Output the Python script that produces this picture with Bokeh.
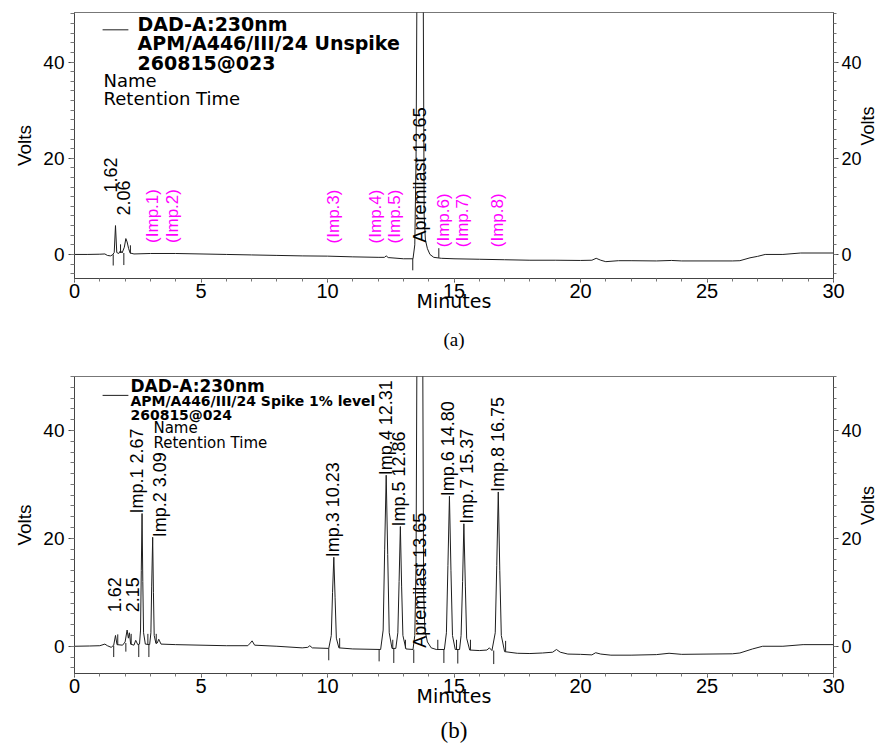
import math
from bokeh.plotting import figure
from bokeh.models import Range1d, LinearAxis, FixedTicker, Label, Title, ColumnDataSource
from bokeh.layouts import column
from bokeh.core.properties import value
from bokeh.embed import file_html
from bokeh.resources import INLINE

# ---------------- (a) Unspiked sample: detector trace (minutes, volts) ----------------
trace_a = [
    (0.0, 0.0), (0.5, 0.0), (1.0, 0.05), (1.2, 0.1), (1.3, -0.2), (1.42, -0.3), (1.5, -0.1),
    (1.57, 0.4), (1.62, 6.0), (1.67, 0.4), (1.75, 0.2), (1.82, 0.8), (1.88, 0.3), (1.97, 1.5),
    (2.03, 3.3), (2.08, 2.6), (2.14, 1.2), (2.2, 0.3), (2.35, 0.1), (3.0, 0.2), (4.0, 0.2),
    (5.0, 0.1), (6.0, 0.0), (7.0, -0.1), (8.0, -0.2), (9.0, -0.3), (10.0, -0.35), (11.0, -0.5),
    (12.0, -0.6), (12.25, -0.6), (12.32, -0.3), (12.4, -0.65), (13.0, -0.9), (13.38, -0.9),
    (13.45, 2.0), (13.5, 20.0), (13.54, 60.0), (13.78, 60.0), (13.82, 8.0), (13.87, 3.0),
    (13.95, 1.2), (14.05, 0.0), (14.2, -0.6), (14.5, -0.8), (15.0, -0.9), (16.0, -1.0),
    (17.0, -1.1), (18.0, -1.2), (19.0, -1.2), (20.0, -1.25), (20.45, -1.2), (20.62, -0.8),
    (20.8, -1.2), (21.0, -1.5), (21.5, -1.3), (22.0, -1.3), (23.0, -1.35), (23.6, -1.25),
    (24.0, -1.35), (25.0, -1.35), (26.0, -1.35), (26.3, -1.3), (26.7, -0.7), (27.0, -0.4),
    (27.3, 0.0), (28.0, 0.0), (28.7, 0.3), (30.0, 0.3),
]
# integration event marks: time, start volts, end volts
marks_a = [(1.53, 0.0, -2.3), (1.82, 0.3, 2.1), (1.95, 0.3, -2.2), (2.21, 0.2, 1.9),
           (13.37, -0.9, -3.3), (14.40, -0.7, 1.3)]
found_labels_a = ["1.62", "2.06", "Apremilast 13.65"]
found_label_a_t = [1.44, 1.95, 13.64]
found_label_a_v = [12.9, 8.1, 2.5]
expected_labels_a = ["(Imp.1)", "(Imp.2)", "(Imp.3)", "(Imp.4)", "(Imp.5)", "(Imp.6)", "(Imp.7)", "(Imp.8)"]
expected_a_t = [3.08, 3.89, 10.24, 11.90, 12.65, 14.57, 15.34, 16.72]
expected_a_v = [2.4, 2.4, 2.3, 2.3, 2.3, 1.5, 1.5, 1.5]
legend_a = ["DAD-A:230nm", "APM/A446/III/24 Unspike", "260815@023"]
legend_sub = ["Name", "Retention Time"]

# ---------------- (b) Spiked 1% level ----------------
trace_b = [
    (0.0, 0.0), (0.6, 0.05), (1.0, 0.1), (1.2, 0.4), (1.3, 0.1), (1.45, -0.2), (1.55, 0.2),
    (1.62, 2.0), (1.68, 0.3), (1.9, 0.2), (2.0, 0.8), (2.08, 3.0), (2.13, 1.5), (2.17, 2.5),
    (2.22, 0.4), (2.35, 0.2), (2.42, 1.1), (2.5, 0.3), (2.57, 0.4), (2.61, 3.0), (2.64, 14.0),
    (2.67, 24.6), (2.70, 12.0), (2.73, 2.5), (2.8, 0.4), (2.97, 0.3), (3.02, 2.5), (3.05, 11.0),
    (3.09, 20.2), (3.12, 10.0), (3.15, 2.0), (3.22, 0.5), (3.27, 0.6), (3.33, 1.3), (3.42, 0.4),
    (4.0, 0.3), (5.0, 0.2), (6.0, 0.1), (6.85, 0.1), (6.95, 0.6), (7.02, 1.0), (7.12, 0.2),
    (8.0, 0.0), (9.0, -0.3), (9.22, -0.2), (9.3, 0.1), (9.4, -0.3), (10.05, -0.4), (10.15, 2.0),
    (10.2, 10.0), (10.25, 16.5), (10.3, 9.0), (10.35, 1.5), (10.45, -0.3), (11.0, -0.5),
    (12.1, -0.6), (12.2, 3.0), (12.26, 18.0), (12.32, 31.7), (12.38, 17.0), (12.44, 2.5),
    (12.55, -0.4), (12.7, -0.4), (12.78, 2.5), (12.83, 12.0), (12.88, 22.2), (12.93, 11.0),
    (12.98, 2.0), (13.1, -0.5), (13.38, -0.6), (13.45, 2.0), (13.5, 15.0), (13.54, 60.0),
    (13.76, 60.0), (13.8, 10.0), (13.85, 3.0), (13.95, 0.8), (14.1, -0.3), (14.3, -0.6),
    (14.62, -0.6), (14.7, 2.5), (14.76, 15.0), (14.82, 27.8), (14.88, 14.0), (14.94, 2.0),
    (15.05, -0.6), (15.22, -0.6), (15.28, 2.0), (15.34, 12.0), (15.39, 22.7), (15.45, 11.0),
    (15.5, 1.5), (15.62, -0.7), (16.0, -0.8), (16.3, -0.7), (16.4, -0.3), (16.5, -0.8),
    (16.63, 2.5), (16.69, 15.0), (16.75, 28.6), (16.81, 14.0), (16.87, 2.0), (17.0, -1.0),
    (17.5, -1.3), (18.0, -1.35), (18.5, -1.25), (18.9, -1.1), (19.05, -0.6), (19.2, -1.1),
    (19.5, -1.45), (20.0, -1.5), (20.45, -1.6), (20.6, -1.2), (20.8, -1.45), (21.2, -1.65),
    (22.0, -1.65), (23.0, -1.55), (23.5, -1.3), (24.0, -1.5), (25.0, -1.45), (26.0, -1.4),
    (26.3, -1.25), (26.8, -0.5), (27.2, 0.0), (28.0, 0.0), (28.8, 0.3), (30.0, 0.3),
]
marks_b = [(1.55, 0.1, -2.0), (1.71, 0.3, 2.2), (2.03, 0.6, -1.0), (2.24, 0.3, 2.3),
           (2.54, 0.3, -2.0), (2.90, 0.3, 2.3), (2.94, 0.3, -2.0), (3.23, 0.6, 2.3),
           (10.05, -0.4, -2.6), (10.48, -0.3, 1.5), (12.04, -0.6, -2.8), (12.58, -0.4, 1.2),
           (12.62, -0.4, -3.1), (13.08, -0.4, 1.2), (13.41, -0.6, -3.1), (14.36, -0.6, 1.2),
           (14.60, -0.6, -3.1), (15.10, -0.6, 1.2), (15.15, -0.6, -3.2), (15.65, -0.7, 1.2),
           (16.57, -0.8, -3.3), (17.04, -1.0, 1.0)]
labels_b = ["1.62", "2.15", "Imp.1 2.67", "Imp.2 3.09", "Imp.3 10.23", "Imp.4 12.31",
            "Imp.5 12.86", "Apremilast 13.65", "Imp.6 14.80", "Imp.7 15.37", "Imp.8 16.75"]
label_b_t = [1.58, 2.31, 2.47, 3.36, 10.22, 12.30, 12.81, 13.65, 14.76, 15.52, 16.75]
label_b_v = [6.3, 6.3, 24.6, 20.2, 16.5, 31.7, 22.2, -0.3, 27.8, 22.7, 28.6]
legend_b = ["DAD-A:230nm", "APM/A446/III/24 Spike 1% level", "260815@024"]

x_ticks = [0, 5, 10, 15, 20, 25, 30]
y_ticks = [0, 20, 40]

AX = "#444444"


def make_fig(ymin, ymax, fh, top, bottom):
    p = figure(frame_width=759, frame_height=fh, x_range=Range1d(0, 30), y_range=Range1d(ymin, ymax),
               output_backend="svg", toolbar_location=None, title=None,
               min_border_left=74, min_border_right=0, min_border_top=top, min_border_bottom=bottom,
               outline_line_color="#777777", background_fill_color="white", border_fill_color="white")
    p.grid.visible = False
    p.add_layout(LinearAxis(), "right")
    xa = p.xaxis[0]
    xa.ticker = FixedTicker(ticks=x_ticks, minor_ticks=list(range(0, 31)))
    xa.axis_label = "Minutes"
    xa.axis_label_text_font = "DejaVu Sans"
    xa.axis_label_text_font_size = "19px"
    xa.axis_label_text_font_style = "normal"
    xa.axis_label_standoff = -11
    xa.major_label_text_font = "Liberation Sans"
    xa.major_label_text_font_size = "20px"
    xa.major_label_standoff = 1
    xa.major_tick_out = 4
    xa.major_tick_in = 0
    xa.minor_tick_out = 3
    xa.minor_tick_in = 0
    for i, ya in enumerate(p.yaxis):
        ya.ticker = FixedTicker(ticks=y_ticks, minor_ticks=list(range(-4, 51, 2)))
        ya.axis_label = "Volts"
        ya.axis_label_text_font = "Liberation Sans"
        ya.axis_label_text_font_style = "normal"
        ya.major_label_text_font = "Liberation Sans"
        ya.major_tick_in = 0
        ya.minor_tick_in = 0
        if i == 0:
            ya.axis_label_text_font_size = "19px"
            ya.major_label_text_font_size = "19px"
            ya.major_label_standoff = 4
            ya.major_tick_out = 6
            ya.minor_tick_out = 4
            ya.axis_label_standoff = 5
        else:
            ya.axis_label_text_font_size = "18px"
            ya.major_label_text_font_size = "18px"
            ya.major_label_standoff = 3
            ya.major_tick_out = 5
            ya.minor_tick_out = 3
            ya.axis_label_standoff = 3
            ya.axis_label_orientation = math.pi / 2
    for ax in list(p.xaxis) + list(p.yaxis):
        ax.axis_line_color = AX
        ax.major_tick_line_color = AX
        ax.minor_tick_line_color = "#777777"
        ax.major_label_text_color = "black"
        ax.axis_label_text_color = "black"
    return p


def draw_trace(p, trace, marks):
    p.line([t for t, v in trace], [v for t, v in trace], line_color="#1e1e1e", line_width=1)
    p.segment(x0=[m[0] for m in marks], y0=[m[1] for m in marks],
              x1=[m[0] for m in marks], y1=[m[2] for m in marks],
              line_color="#1e1e1e", line_width=1)


def draw_labels(p, texts, ts, vs, color, size):
    src = ColumnDataSource(dict(t=ts, v=vs, txt=texts))
    p.text(x="t", y="v", text="txt", source=src, angle=math.pi / 2, text_align="left",
           text_baseline="middle", text_font=value("Liberation Sans"), text_font_size=size,
           text_color=color)


# ---------------- figure (a) ----------------
pa = make_fig(-5, 50.3, 266, 12, 86)
draw_trace(pa, trace_a, marks_a)
draw_labels(pa, found_labels_a, found_label_a_t, found_label_a_v, "black", "18px")
draw_labels(pa, expected_labels_a, expected_a_t, expected_a_v, "#ff00ff", "17px")
pa.line([1.11, 2.13], [46.7, 46.7], line_color="#1e1e1e", line_width=1)
for txt, yv in zip(legend_a, [48.0, 44.0, 39.9]):
    pa.add_layout(Label(x=2.49, y=yv, text=txt, text_font="DejaVu Sans", text_font_style="bold",
                        text_font_size="19px", text_baseline="middle", text_align="left",
                        text_color="black"))
for txt, yv in zip(legend_sub, [36.1, 32.4]):
    pa.add_layout(Label(x=1.15, y=yv, text=txt, text_font="DejaVu Sans", text_font_size="18px",
                        text_baseline="middle", text_align="left", text_color="black"))
pa.add_layout(Title(text="(a)", align="center", text_font="Liberation Serif", text_font_size="19px",
                    text_font_style="normal", text_color="black", standoff=24), "below")

# ---------------- figure (b) ----------------
pb = make_fig(-5.05, 50, 297, 12, 72)
draw_trace(pb, trace_b, marks_b)
draw_labels(pb, labels_b, label_b_t, label_b_v, "black", "18px")
pb.line([1.11, 2.13], [46.5, 46.5], line_color="#1e1e1e", line_width=1)
for txt, yv, fs in zip(legend_b, [48.3, 45.4, 42.8], ["17px", "14px", "14px"]):
    pb.add_layout(Label(x=2.21, y=yv, text=txt, text_font="DejaVu Sans", text_font_style="bold",
                        text_font_size=fs, text_baseline="middle", text_align="left",
                        text_color="black"))
for txt, yv in zip(legend_sub, [40.4, 37.6]):
    pb.add_layout(Label(x=3.12, y=yv, text=txt, text_font="DejaVu Sans", text_font_size="15px",
                        text_baseline="middle", text_align="left", text_color="black"))
pb.add_layout(Title(text="(b)", align="center", text_font="Liberation Serif", text_font_size="23px",
                    text_font_style="normal", text_color="black", standoff=13), "below")

layout = column(pa, pb)
open("out.html", "w").write(file_html(layout, INLINE))
